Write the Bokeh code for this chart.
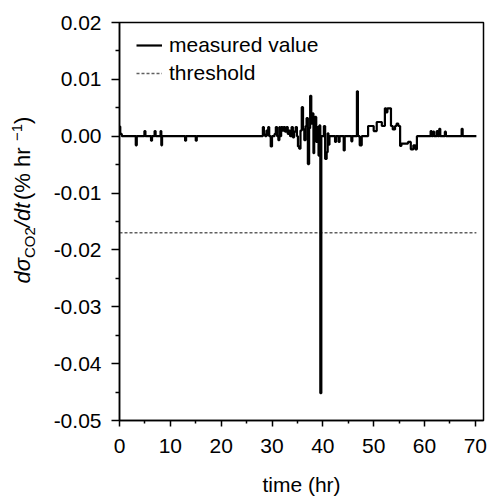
import math
from bokeh.plotting import figure
from bokeh.layouts import row
from bokeh.models import (Range1d, FixedTicker, NumeralTickFormatter,
                          Legend, LegendItem)
from bokeh.core.properties import value
from bokeh.embed import file_html
from bokeh.resources import INLINE

# ---- data ----
time_hr = [0.0, 0.3, 0.6,
           3.1, 3.3, 3.5,
           4.8, 5.0, 5.2,
           6.1, 6.3, 6.5,
           6.8, 7.0, 7.2,
           8.0, 8.15, 8.3, 8.45,
           12.8, 13.0, 13.2,
           14.9, 15.1, 15.3,
           28.1, 28.3, 28.5, 28.8, 29.0, 29.2, 29.3, 29.6, 29.9, 30.1,
           30.4, 30.6, 30.9, 31.1, 31.4, 31.5, 31.7, 31.9, 32.2, 32.4,
           32.7, 33.0, 33.2, 33.4, 33.7, 34.0, 34.2, 34.5, 34.8, 35.0,
           35.2, 35.5, 35.7, 36.0, 36.2, 36.5, 36.7, 36.9, 37.2, 37.4,
           37.6, 37.85, 38.1, 38.2, 38.4, 38.6, 38.8, 39.1, 39.2, 39.4,
           39.6, 39.8, 40.1, 40.3, 40.6, 40.9, 41.0, 41.2, 41.4,
           42.3, 42.5, 42.7,
           43.0, 43.2, 43.4,
           44.0, 44.2, 44.4,
           45.5, 45.7, 45.9,
           46.6, 46.8, 47.0,
           47.2, 47.3, 47.6, 47.7,
           48.8, 49.0, 49.9, 50.1, 50.5, 50.7, 51.5, 51.7, 52.1, 52.3,
           52.6, 52.8, 53.3, 53.5, 54.0, 54.4, 54.6, 55.1, 55.3,
           55.6, 56.5, 57.0, 57.6, 58.0, 58.4, 58.6,
           61.1, 61.3, 61.5,
           61.6, 61.8, 62.0,
           62.3, 62.5, 62.7,
           62.8, 63.0, 63.2,
           63.9, 64.1, 64.3,
           67.2, 67.4, 67.6,
           70.2]
dsdt = [0.0017, 0.0004, 0.0,
        0.0, -0.0016, 0.0,
        0.0, 0.0009, 0.0,
        0.0, -0.0008, 0.0,
        0.0, 0.0009, 0.0,
        0.0, 0.0009, -0.0016, 0.0,
        0.0, -0.0008, 0.0,
        0.0, -0.0008, 0.0,
        0.0, 0.0016, 0.0003, 0.0, 0.0010, 0.0002, 0.0016, 0.0, -0.0018, 0.0,
        0.0, 0.0004, 0.0016, 0.0, -0.0007, 0.0016, 0.0, 0.0016, 0.0010, 0.0016,
        0.0008, 0.0016, 0.0004, 0.0010, 0.0, 0.0016, -0.0002, 0.0008, 0.0016, 0.0,
        -0.0018, -0.0022, 0.0010, 0.0051, 0.0012, -0.0007, 0.0018, 0.0032, -0.0049, 0.0014,
        0.0071, 0.0022, 0.0040, -0.0030, 0.0012, 0.0034, -0.0010, 0.0016, -0.0034, 0.0019,
        -0.0452, 0.0, 0.0, 0.0018, -0.0040, -0.0028, 0.0005, -0.0015, 0.0,
        0.0, -0.0010, 0.0,
        0.0, -0.0010, 0.0,
        0.0, -0.0025, 0.0,
        0.0, -0.0009, 0.0,
        0.0, 0.0079, 0.0,
        0.0, -0.0016, -0.0016, 0.0,
        0.0, 0.0018, 0.0018, 0.0009, 0.0009, 0.0025, 0.0025, 0.0018, 0.0018, 0.0049,
        0.0042, 0.0049, 0.0049, 0.0018, 0.0012, 0.0018, 0.0022, 0.0018, -0.0017,
        -0.0013, -0.0013, -0.0010, -0.0023, -0.0016, -0.0023, 0.0,
        0.0, 0.0009, 0.0,
        0.0, 0.0008, 0.0,
        0.0, 0.0009, 0.0,
        0.0, 0.0013, 0.0,
        0.0, 0.0008, 0.0,
        0.0, 0.0013, 0.0,
        0.0]

threshold_value = -0.017
threshold_x = [0.0, 70.2]

x_major = [0, 10, 20, 30, 40, 50, 60, 70]
x_minor = [5, 15, 25, 35, 45, 55, 65]
y_major = [0.02, 0.01, 0.0, -0.01, -0.02, -0.03, -0.04, -0.05]
y_minor = [0.015, 0.005, -0.005, -0.015, -0.025, -0.035, -0.045]

# y-axis label pieces: text, style, size
ylabel_pieces = [("dσ", "italic", "22px"), ("CO2", "normal", "15px"),
                 ("/dt", "italic", "22px"), (" (% hr", "normal", "22px"),
                 ("\u22121", "normal", "15px"), (")", "normal", "22px")]

FONT = "Liberation Sans"
X_MAX = 71.6
Y0, Y1 = -0.05, 0.02
TOTAL_W, H = 488, 498
LBL_W = 50
W = TOTAL_W - LBL_W
B_LEFT, B_RIGHT, B_TOP, B_BOTTOM = 118 - LBL_W, 5, 22, 78
frame_h = H - B_TOP - B_BOTTOM
px_per_y = frame_h / (Y1 - Y0)

# ---- narrow panel holding the composite y-axis label ----
lab = figure(width=LBL_W, height=H, output_backend="svg", toolbar_location=None,
             x_range=Range1d(0, LBL_W), y_range=Range1d(Y0, Y1),
             x_axis_location=None, y_axis_location=None,
             min_border_left=0, min_border_right=0,
             min_border_top=B_TOP, min_border_bottom=B_BOTTOM)
lab.grid.visible = False
lab.outline_line_color = None
lab.background_fill_color = "white"
lab.border_fill_color = "white"

base_x = 22
start_px = 283          # page y of the start of the label
along = [0.0, 25.5, 56.3, 83.5, 142.5, 159.6]   # px along the text
across = [0, 7, 0, 0, -6, 0]                    # baseline shift (px)
for (txt, style, size), a, c in zip(ylabel_pieces, along, across):
    y_data = Y1 - (start_px - a - B_TOP) / px_per_y
    lab.text(x=[base_x + c], y=[y_data], text=[txt], angle=math.pi / 2,
             text_font=value(FONT), text_font_size=size, text_font_style=style,
             text_color="black", text_align="left", text_baseline="alphabetic")

# ---- main plot ----
p = figure(width=W, height=H, output_backend="svg", toolbar_location=None,
           x_range=Range1d(0, X_MAX), y_range=Range1d(Y0, Y1),
           min_border_left=B_LEFT, min_border_right=B_RIGHT,
           min_border_top=B_TOP, min_border_bottom=B_BOTTOM)
p.grid.visible = False
p.outline_line_color = "black"
p.outline_line_width = 1.5
p.background_fill_color = "white"
p.border_fill_color = "white"

thr = p.line(threshold_x, [threshold_value, threshold_value], line_color="#606060",
             line_width=1.5, line_dash="3 2")
meas = p.step(time_hr, dsdt, mode="center", line_color="black", line_width=2.2)

for ax in (p.xaxis[0], p.yaxis[0]):
    ax.axis_line_color = "black"
    ax.axis_line_width = 1.5
    ax.major_tick_line_color = "black"
    ax.minor_tick_line_color = "black"
    ax.major_tick_line_width = 1.5
    ax.minor_tick_line_width = 1.5
    ax.major_tick_in = 0
    ax.minor_tick_in = 0
    ax.major_label_text_font = FONT
    ax.major_label_text_font_size = "21px"
    ax.major_label_text_color = "black"

p.xaxis.ticker = FixedTicker(ticks=x_major, minor_ticks=x_minor)
p.xaxis.major_tick_out = 6
p.xaxis.minor_tick_out = 3
p.xaxis.major_label_standoff = 12
p.xaxis.axis_label = "time (hr)"
p.xaxis.axis_label_text_font = FONT
p.xaxis.axis_label_text_font_size = "21px"
p.xaxis.axis_label_text_font_style = "normal"
p.xaxis.axis_label_text_color = "black"
p.xaxis.axis_label_standoff = 17

p.yaxis.ticker = FixedTicker(ticks=y_major, minor_ticks=y_minor)
p.yaxis.formatter = NumeralTickFormatter(format="0.00")
p.yaxis.major_tick_out = 8
p.yaxis.minor_tick_out = 4
p.yaxis.major_label_standoff = 10

legend = Legend(items=[LegendItem(label="measured value", renderers=[meas]),
                       LegendItem(label="threshold", renderers=[thr])],
                location=(13, frame_h - 7 - 60))
legend.label_text_font = FONT
legend.label_text_font_size = "21px"
legend.label_text_color = "black"
legend.border_line_alpha = 0
legend.background_fill_alpha = 0
legend.glyph_width = 26
legend.glyph_height = 20
legend.label_standoff = 7
legend.padding = 4
legend.margin = 0
legend.spacing = 4
p.add_layout(legend)

layout = row(lab, p, spacing=0)
open("out.html", "w").write(file_html(layout, INLINE))
